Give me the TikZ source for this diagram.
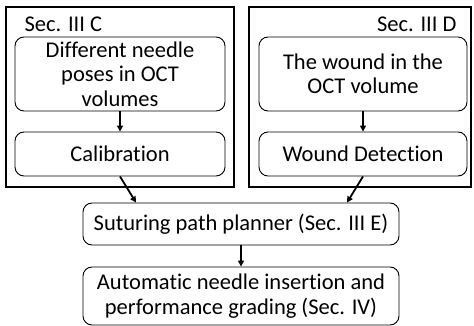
\documentclass[tikz,border=0pt]{standalone}
\usepackage{fontspec}
\setmainfont{Carlito}[Ligatures={NoCommon}]
\usetikzlibrary{arrows.meta}
\begin{document}
\begin{tikzpicture}[x=1pt,y=-1pt,
frame/.style={draw,line width=1.6pt,inner sep=0pt},
stepbox/.style={draw,rounded corners=9pt,line width=0.9pt,align=center,inner sep=0pt,
  font=\fontsize{22.5}{24.5}\selectfont},
arr/.style={-{Triangle[length=6pt,width=6pt]},line width=1.8pt}]
\useasboundingbox (0,0) rectangle (474,326);
% the two section frames
\node[frame,minimum width=228,minimum height=180] (secC) at (120,97) {};
\node[frame,minimum width=222,minimum height=180] (secD) at (360,97) {};
\node[anchor=base west,font=\fontsize{22.5}{24.5}\selectfont] (labC) at (21,32) {Sec. III C};
\node[anchor=base east,font=\fontsize{22.5}{24.5}\selectfont] (labD) at (460,32) {Sec. III D};

\node[stepbox,minimum width=210,minimum height=74] (poses) at (120,74) {Different needle\\poses in OCT\\volumes};
\node[stepbox,minimum width=210,minimum height=44] (calib) at (120,154) {Calibration};
\node[stepbox,minimum width=208,minimum height=74] (wound) at (363,74) {The wound in the\\OCT volume};
\node[stepbox,minimum width=208,minimum height=44] (detect) at (363,154) {Wound Detection};
\node[stepbox,minimum width=316,minimum height=42] (plan) at (241,224) {Suturing path planner (Sec. III E)};
\node[stepbox,minimum width=316,minimum height=58] (grade) at (241,296) {Automatic needle insertion and\\performance grading (Sec. IV)};

\draw[arr] (poses) -- (calib);
\draw[arr] (wound) -- (detect);
\draw[arr] (calib.south) -- ([xshift=-105]plan.north);
\draw[arr] (detect.south) -- ([xshift=106]plan.north);
\draw[arr] (plan) -- (grade);
\end{tikzpicture}
\end{document}
